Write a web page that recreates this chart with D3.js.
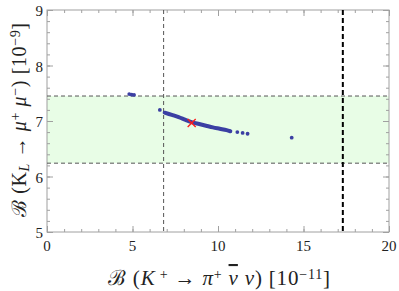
<!DOCTYPE html>
<html>
<head>
<meta charset="utf-8">
<script src="https://cdn.jsdelivr.net/npm/d3@7"></script>
<style>
  body { margin: 0; background: #fff; }
</style>
</head>
<body>
<svg id="chart" width="399" height="291"></svg>
<script>
// axis ranges and ticks
const xDomain = [0, 20];
const yDomain = [5, 9];
const xTicks = [0, 5, 10, 15, 20];
const yTicks = [5, 6, 7, 8, 9];

// allowed band for K_L -> mu mu, lower bound on K+ and upper limit
const yBand = [6.24, 7.45];
const xLower = 6.82;
const xUpper = 17.3;

// main curve of scan points (drawn thick)
const curveX = [6.88, 7.3, 7.7, 8.1, 8.5, 8.9, 9.3, 9.7, 10.1, 10.5, 10.72];
const curveY = [7.15, 7.11, 7.07, 7.02, 6.975, 6.945, 6.915, 6.885, 6.86, 6.835, 6.815];

// isolated scan points
const dotX = [4.81, 4.95, 5.09, 6.6, 11.13, 11.44, 11.73, 14.31];
const dotY = [7.485, 7.475, 7.47, 7.2, 6.80, 6.785, 6.77, 6.70];

// SM point
const smX = [8.46];
const smY = [6.965];

const serif = "Liberation Serif";
const svg = d3.select("#chart");
const pLeft = 47, pRight = 389, pTop = 10, pBottom = 232;

const x = d3.scaleLinear().domain(xDomain).range([pLeft, pRight]);
const y = d3.scaleLinear().domain(yDomain).range([pBottom, pTop]);

// green band
svg.append("rect")
    .attr("x", x(xDomain[0]))
    .attr("y", y(yBand[1]))
    .attr("width", x(xDomain[1]) - x(xDomain[0]))
    .attr("height", y(yBand[0]) - y(yBand[1]))
    .attr("fill", "#e8fde6");

// frame
const frameCol = "#a0a0a0";
svg.append("rect")
    .attr("x", pLeft).attr("y", pTop)
    .attr("width", pRight - pLeft).attr("height", pBottom - pTop)
    .attr("fill", "none").attr("stroke", frameCol).attr("stroke-width", 1);

// ticks on all sides, pointing inward
function ticks(axis, tickVals, size, offset) {
    return svg.append("g")
        .attr("transform", offset)
        .call(axis.tickValues(tickVals).tickSize(size).tickFormat(""))
        .call(g => g.select(".domain").remove())
        .call(g => g.selectAll("line").attr("stroke", frameCol));
}
const xMinor = d3.range(0, 20.01, 1);
const yMinor = d3.range(5, 9.01, 0.2);
ticks(d3.axisBottom(x), xMinor, -3, `translate(0,${pBottom})`);
ticks(d3.axisBottom(x), xTicks, -6, `translate(0,${pBottom})`);
ticks(d3.axisTop(x), xMinor, -3, `translate(0,${pTop})`);
ticks(d3.axisTop(x), xTicks, -6, `translate(0,${pTop})`);
ticks(d3.axisLeft(y), yMinor, -3, `translate(${pLeft},0)`);
ticks(d3.axisLeft(y), yTicks, -6, `translate(${pLeft},0)`);
ticks(d3.axisRight(y), yMinor, -3, `translate(${pRight},0)`);
ticks(d3.axisRight(y), yTicks, -6, `translate(${pRight},0)`);

// tick labels
svg.append("g").selectAll("text").data(xTicks).join("text")
    .attr("x", d => x(d)).attr("y", pBottom + 19)
    .attr("text-anchor", "middle").attr("font-size", 15)
    .attr("font-family", serif).attr("fill", "#222")
    .text(d => d);
svg.append("g").selectAll("text").data(yTicks).join("text")
    .attr("x", pLeft - 4).attr("y", d => y(d) + 6)
    .attr("text-anchor", "end").attr("font-size", 15)
    .attr("font-family", serif).attr("fill", "#222")
    .text(d => d);

// dashed lines
svg.append("line")
    .attr("x1", pLeft).attr("x2", pRight)
    .attr("y1", y(yBand[1])).attr("y2", y(yBand[1]))
    .attr("stroke", "#555").attr("stroke-dasharray", "4,3");
svg.append("line")
    .attr("x1", pLeft).attr("x2", pRight)
    .attr("y1", y(yBand[0])).attr("y2", y(yBand[0]))
    .attr("stroke", "#555").attr("stroke-dasharray", "4,3");
svg.append("line")
    .attr("x1", x(xLower)).attr("x2", x(xLower))
    .attr("y1", pTop).attr("y2", pBottom)
    .attr("stroke", "#555").attr("stroke-dasharray", "4,3");
svg.append("line")
    .attr("x1", x(xUpper)).attr("x2", x(xUpper))
    .attr("y1", pTop).attr("y2", pBottom)
    .attr("stroke", "#000").attr("stroke-width", 2).attr("stroke-dasharray", "5,3");

// scan points
const blue = "#3b3fa3";
const curve = d3.zip(curveX, curveY);
svg.append("path")
    .attr("d", d3.line().x(d => x(d[0])).y(d => y(d[1])).curve(d3.curveCatmullRom)(curve))
    .attr("fill", "none").attr("stroke", blue)
    .attr("stroke-width", 4).attr("stroke-linecap", "round");
svg.append("g").selectAll("circle").data(d3.zip(dotX, dotY)).join("circle")
    .attr("cx", d => x(d[0])).attr("cy", d => y(d[1]))
    .attr("r", 1.9).attr("fill", blue);

// SM cross
const sm = d3.zip(smX, smY);
svg.append("g").selectAll("path").data(sm).join("path")
    .attr("d", d => {
        const cx = x(d[0]), cy = y(d[1]), s = 4;
        return `M${cx - s},${cy - s}L${cx + s},${cy + s}M${cx - s},${cy + s}L${cx + s},${cy - s}`;
    })
    .attr("stroke", "#ff1a1a").attr("stroke-width", 1.3);

// axis labels: [text, kind] where kind is n(ormal), i(talic), sup, sub
function richText(sel, parts) {
    parts.forEach(([t, kind]) => {
        const ts = sel.append("tspan").text(t);
        if (kind === "i" || kind === "io") ts.attr("font-style", "italic");
        if (kind === "io") ts.style("text-decoration", "overline");
        if (kind === "sup") ts.attr("font-size", 14).attr("baseline-shift", "45%");
        if (kind === "sub") ts.attr("font-size", 14).attr("font-style", "italic").attr("baseline-shift", "-20%");
    });
}

const xl = svg.append("text")
    .attr("x", 108).attr("y", 285)
    .attr("font-size", 21).attr("textLength", 222).attr("lengthAdjust", "spacing")
    .attr("font-family", serif).attr("fill", "#222");
richText(xl, [["ℬ (", "n"], ["K", "i"], [" +", "sup"], [" → ", "n"], ["π", "i"],
    ["+", "sup"], [" ", "n"], ["ν", "io"], [" ", "n"], ["ν", "i"], [") [10", "n"],
    ["−11", "sup"], ["]", "n"]]);

const yl = svg.append("text")
    .attr("transform", `translate(26,217) rotate(-90)`)
    .attr("font-size", 20).attr("textLength", 194).attr("lengthAdjust", "spacing")
    .attr("font-family", serif).attr("fill", "#222");
richText(yl, [["ℬ (K", "n"], ["L", "sub"], [" → ", "n"], ["μ", "i"], ["+", "sup"],
    [" ", "n"], ["μ", "i"], ["−", "sup"], [") [10", "n"], ["−9", "sup"], ["]", "n"]]);
</script>
</body>
</html>
